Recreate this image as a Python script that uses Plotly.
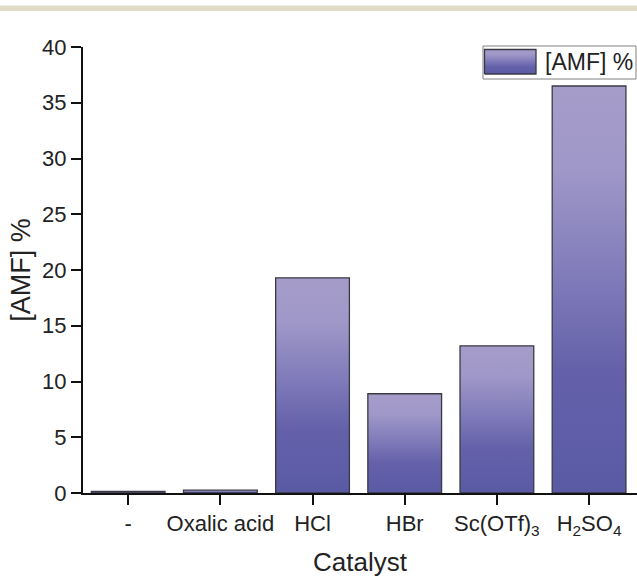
import plotly.graph_objects as go

categories = ["-", "Oxalic acid", "HCl", "HBr", "Sc(OTf)<sub>3</sub>", "H<sub>2</sub>SO<sub>4</sub>"]
amf_values = [0.15, 0.25, 19.3, 8.9, 13.2, 36.5]
y_ticks = [0, 5, 10, 15, 20, 25, 30, 35, 40]
series_name = "[AMF] %"

BAR_W = 0.8
FONT = "Liberation Sans, Arial, sans-serif"
grad = [[0.0, "#5a5aa4"], [0.3, "#6461aa"], [0.62, "#8b85bf"], [0.8, "#a098c8"], [1.0, "#a59cca"]]
EDGE = dict(color="#3a3a44", width=1.3)

# plot area in pixels: x 83..637, y 47..493
def px(x):
    return (x - 83) / 554.0

def py(y):
    return (493 - y) / 446.0

fig = go.Figure()
for i, (cat, v) in enumerate(zip(categories, amf_values)):
    x0, x1 = i - BAR_W / 2, i + BAR_W / 2
    fig.add_trace(go.Scatter(
        x=[x0, x0, x1, x1, x0], y=[0, v, v, 0, 0],
        mode="lines", fill="toself",
        fillgradient=dict(type="vertical", colorscale=grad),
        line=EDGE, name=cat, showlegend=False, hoverinfo="skip",
    ))

# legend swatch (drawn on an overlay axis in paper units)
sx0, sx1, sy0, sy1 = px(484.5), px(536), py(74), py(49.5)
fig.add_trace(go.Scatter(
    x=[sx0, sx0, sx1, sx1, sx0], y=[sy0, sy1, sy1, sy0, sy0],
    xaxis="x2", yaxis="y2", mode="lines", fill="toself",
    fillgradient=dict(type="vertical", colorscale=grad),
    line=EDGE, showlegend=False, hoverinfo="skip", name=series_name,
))

shapes = [
    dict(type="rect", xref="paper", yref="paper",
         x0=-0.2, x1=1.05, y0=py(11), y1=py(5.5),
         fillcolor="#e0dcc8", line=dict(width=0), layer="below"),
    dict(type="rect", xref="paper", yref="paper",
         x0=px(483), x1=px(636), y0=py(79), y1=py(46),
         fillcolor="white", line=dict(color="#808080", width=1), layer="below"),
]

fig.update_layout(
    width=637, height=577,
    margin=dict(l=83, r=0, t=47, b=84, autoexpand=False),
    paper_bgcolor="white", plot_bgcolor="white",
    font=dict(family=FONT, color="#222222"),
    showlegend=False,
    shapes=shapes,
    annotations=[dict(text=series_name, xref="paper", yref="paper",
                      x=px(543), y=py(62), xanchor="left", yanchor="middle",
                      showarrow=False, font=dict(size=23, family=FONT, color="#222222"))],
    xaxis=dict(
        range=[-0.49, 5.52], tickmode="array",
        tickvals=list(range(len(categories))), ticktext=categories,
        showline=True, linecolor="#111111", linewidth=2,
        ticks="outside", ticklen=10, tickwidth=2, tickcolor="#111111",
        tickfont=dict(size=22, family=FONT, color="#222222"),
        showgrid=False, zeroline=False,
        title=dict(text="Catalyst", font=dict(size=26, family=FONT), standoff=19),
    ),
    yaxis=dict(
        range=[0, 40], tickmode="array", tickvals=y_ticks,
        showline=True, linecolor="#111111", linewidth=2,
        ticks="outside", ticklen=10, tickwidth=2, tickcolor="#111111",
        tickfont=dict(size=22, family=FONT, color="#222222"),
        showgrid=False, zeroline=False,
        title=dict(text="[AMF] %", font=dict(size=27, family=FONT), standoff=4),
    ),
    xaxis2=dict(overlaying="x", range=[0, 1], visible=False, fixedrange=True),
    yaxis2=dict(overlaying="y", range=[0, 1], visible=False, fixedrange=True),
)

fig.write_html("out.html", config={"displayModeBar": False},
               post_script="document.body.style.margin='0';document.body.style.overflow='hidden';")
